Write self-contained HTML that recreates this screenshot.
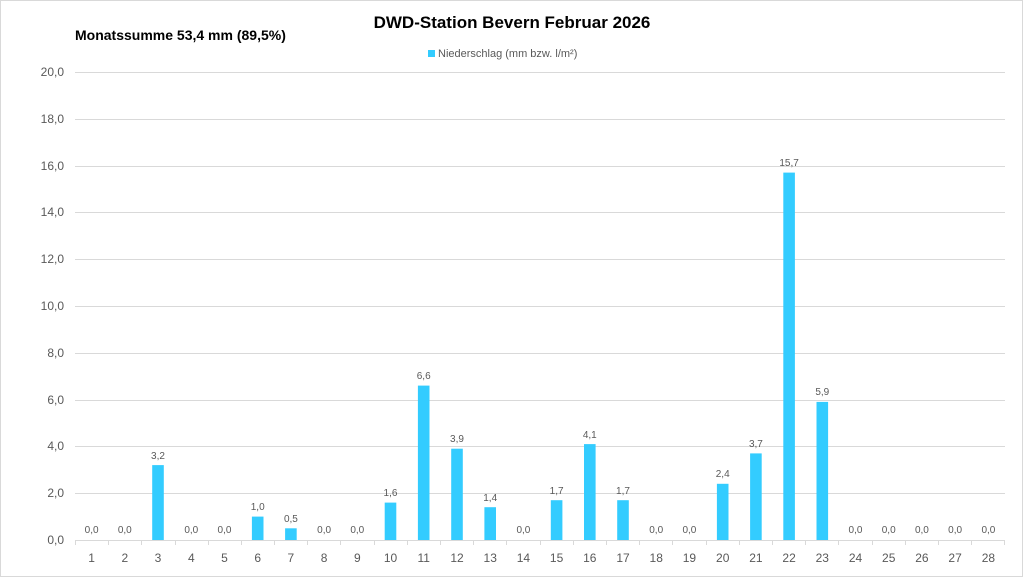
<!DOCTYPE html>
<html><head><meta charset="utf-8"><style>
html,body{margin:0;padding:0;background:#fff}
svg{display:block;font-family:"Liberation Sans",sans-serif}
</style></head><body>
<svg width="1024" height="578" viewBox="0 0 1024 578">
<rect x="0.5" y="0.5" width="1022" height="576" fill="#fff" stroke="#d9d9d9"/>
<text x="512" y="28" text-anchor="middle" font-size="17" font-weight="bold" fill="#000">DWD-Station Bevern Februar 2026</text>
<text x="75" y="40" font-size="14" font-weight="bold" fill="#000">Monatssumme 53,4 mm (89,5%)</text>
<rect x="428" y="50" width="7" height="7" fill="#33ccff"/>
<text x="438" y="57" font-size="11" fill="#595959">Niederschlag (mm bzw. l/m²)</text>
<g stroke="#d9d9d9" stroke-width="1">
<line x1="75" x2="1005" y1="72.5" y2="72.5"/><line x1="75" x2="1005" y1="119.5" y2="119.5"/>
<line x1="75" x2="1005" y1="166.5" y2="166.5"/><line x1="75" x2="1005" y1="212.5" y2="212.5"/>
<line x1="75" x2="1005" y1="259.5" y2="259.5"/><line x1="75" x2="1005" y1="306.5" y2="306.5"/>
<line x1="75" x2="1005" y1="353.5" y2="353.5"/><line x1="75" x2="1005" y1="400.5" y2="400.5"/>
<line x1="75" x2="1005" y1="446.5" y2="446.5"/><line x1="75" x2="1005" y1="493.5" y2="493.5"/>
<line x1="75" x2="1005" y1="540.5" y2="540.5"/>
</g>
<g font-size="12" fill="#595959" text-anchor="end">
<text x="64" y="76">20,0</text><text x="64" y="123">18,0</text><text x="64" y="170">16,0</text>
<text x="64" y="216">14,0</text><text x="64" y="263">12,0</text><text x="64" y="310">10,0</text>
<text x="64" y="357">8,0</text><text x="64" y="404">6,0</text><text x="64" y="450">4,0</text>
<text x="64" y="497">2,0</text><text x="64" y="544">0,0</text>
</g>
<path stroke="#d9d9d9" d="M75.5 540v5M108.5 540v5M141.5 540v5M175.5 540v5M208.5 540v5M241.5 540v5M274.5 540v5M307.5 540v5M340.5 540v5M374.5 540v5M407.5 540v5M440.5 540v5M473.5 540v5M506.5 540v5M540.5 540v5M573.5 540v5M606.5 540v5M639.5 540v5M672.5 540v5M706.5 540v5M739.5 540v5M772.5 540v5M805.5 540v5M838.5 540v5M872.5 540v5M905.5 540v5M938.5 540v5M971.5 540v5M1004.5 540v5"/>
<g fill="#33ccff">
<rect x="152.2" y="465.1" width="11.6" height="74.9"/>
<rect x="251.9" y="516.6" width="11.6" height="23.4"/>
<rect x="285.1" y="528.3" width="11.6" height="11.7"/>
<rect x="384.7" y="502.6" width="11.6" height="37.4"/>
<rect x="417.9" y="385.6" width="11.6" height="154.4"/>
<rect x="451.2" y="448.7" width="11.6" height="91.3"/>
<rect x="484.4" y="507.2" width="11.6" height="32.8"/>
<rect x="550.8" y="500.2" width="11.6" height="39.8"/>
<rect x="584.0" y="444.1" width="11.6" height="95.9"/>
<rect x="617.2" y="500.2" width="11.6" height="39.8"/>
<rect x="716.9" y="483.8" width="11.6" height="56.2"/>
<rect x="750.1" y="453.4" width="11.6" height="86.6"/>
<rect x="783.3" y="172.6" width="11.6" height="367.4"/>
<rect x="816.5" y="401.9" width="11.6" height="138.1"/>
</g>
<g font-size="10" fill="#595959" text-anchor="middle">
<text x="91.6" y="533">0,0</text><text x="124.8" y="533">0,0</text><text x="158.0" y="459">3,2</text>
<text x="191.3" y="533">0,0</text><text x="224.5" y="533">0,0</text><text x="257.7" y="510">1,0</text>
<text x="290.9" y="522">0,5</text><text x="324.1" y="533">0,0</text><text x="357.3" y="533">0,0</text>
<text x="390.5" y="496">1,6</text><text x="423.7" y="379">6,6</text><text x="457.0" y="442">3,9</text>
<text x="490.2" y="501">1,4</text><text x="523.4" y="533">0,0</text><text x="556.6" y="494">1,7</text>
<text x="589.8" y="438">4,1</text><text x="623.0" y="494">1,7</text><text x="656.2" y="533">0,0</text>
<text x="689.4" y="533">0,0</text><text x="722.7" y="477">2,4</text><text x="755.9" y="447">3,7</text>
<text x="789.1" y="166">15,7</text><text x="822.3" y="395">5,9</text><text x="855.5" y="533">0,0</text>
<text x="888.7" y="533">0,0</text><text x="921.9" y="533">0,0</text><text x="955.1" y="533">0,0</text>
<text x="988.4" y="533">0,0</text>
</g>
<g font-size="12" fill="#595959" text-anchor="middle">
<text x="91.6" y="562">1</text><text x="124.8" y="562">2</text><text x="158.0" y="562">3</text><text x="191.3" y="562">4</text>
<text x="224.5" y="562">5</text><text x="257.7" y="562">6</text><text x="290.9" y="562">7</text><text x="324.1" y="562">8</text>
<text x="357.3" y="562">9</text><text x="390.5" y="562">10</text><text x="423.7" y="562">11</text><text x="457.0" y="562">12</text>
<text x="490.2" y="562">13</text><text x="523.4" y="562">14</text><text x="556.6" y="562">15</text><text x="589.8" y="562">16</text>
<text x="623.0" y="562">17</text><text x="656.2" y="562">18</text><text x="689.4" y="562">19</text><text x="722.7" y="562">20</text>
<text x="755.9" y="562">21</text><text x="789.1" y="562">22</text><text x="822.3" y="562">23</text><text x="855.5" y="562">24</text>
<text x="888.7" y="562">25</text><text x="921.9" y="562">26</text><text x="955.1" y="562">27</text><text x="988.4" y="562">28</text>
</g>
</svg>
</body></html>
